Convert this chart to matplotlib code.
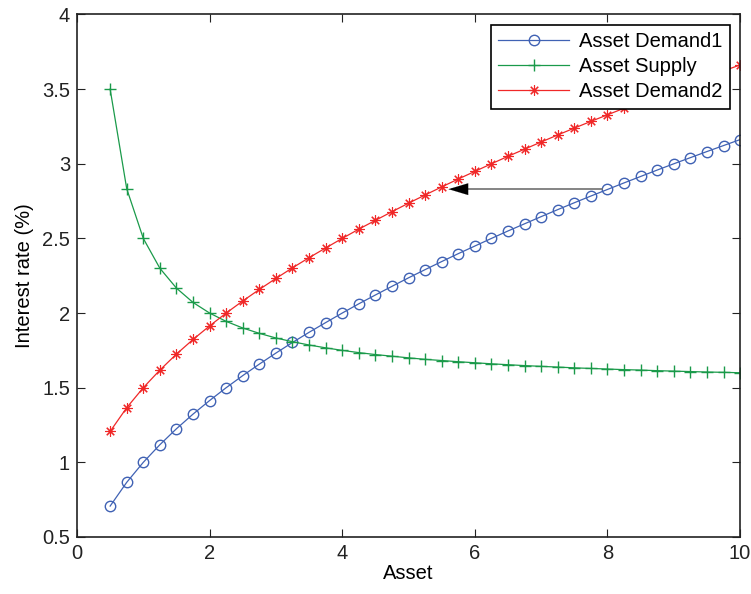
import matplotlib.pyplot as plt

plt.rcParams['font.family'] = ['Liberation Sans', 'DejaVu Sans']

# asset values on the x axis
asset = [0.5, 0.75, 1.0, 1.25, 1.5, 1.75, 2.0, 2.25, 2.5, 2.75, 3.0, 3.25, 3.5,
         3.75, 4.0, 4.25, 4.5, 4.75, 5.0, 5.25, 5.5, 5.75, 6.0, 6.25, 6.5, 6.75,
         7.0, 7.25, 7.5, 7.75, 8.0, 8.25, 8.5, 8.75, 9.0, 9.25, 9.5, 9.75, 10.0]

demand1 = [0.707, 0.866, 1.0, 1.118, 1.225, 1.323, 1.414, 1.5, 1.581, 1.658,
           1.732, 1.803, 1.871, 1.936, 2.0, 2.062, 2.121, 2.179, 2.236, 2.291,
           2.345, 2.398, 2.449, 2.5, 2.55, 2.598, 2.646, 2.693, 2.739, 2.784,
           2.828, 2.872, 2.915, 2.958, 3.0, 3.041, 3.082, 3.122, 3.162]

supply = [3.5, 2.833, 2.5, 2.3, 2.167, 2.071, 2.0, 1.944, 1.9, 1.864, 1.833,
          1.808, 1.786, 1.767, 1.75, 1.735, 1.722, 1.711, 1.7, 1.69, 1.682,
          1.674, 1.667, 1.66, 1.654, 1.648, 1.643, 1.638, 1.633, 1.629, 1.625,
          1.621, 1.618, 1.614, 1.611, 1.608, 1.605, 1.603, 1.6]

demand2 = [1.207, 1.366, 1.5, 1.618, 1.725, 1.823, 1.914, 2.0, 2.081, 2.158,
           2.232, 2.303, 2.371, 2.436, 2.5, 2.562, 2.621, 2.679, 2.736, 2.791,
           2.845, 2.898, 2.949, 3.0, 3.05, 3.098, 3.146, 3.193, 3.239, 3.284,
           3.328, 3.372, 3.415, 3.458, 3.5, 3.541, 3.582, 3.622, 3.662]

# shift arrow (from demand1 to demand2)
arrow_start = (7.92, 2.83)
arrow_end = (5.56, 2.83)

yticks = [0.5, 1, 1.5, 2, 2.5, 3, 3.5, 4]
ytick_labels = ['0.5', '1', '1.5', '2', '2.5', '3', '3.5', '4']
xticks = [0, 2, 4, 6, 8, 10]

fig = plt.figure(figsize=(7.51, 5.94), dpi=100)
ax = fig.add_axes([0.1025, 0.096, 0.883, 0.8796])

ax.plot(asset, demand1, color='#4062b4', marker='o', markersize=7.5,
        markerfacecolor='none', linewidth=0.9, label='Asset Demand1')
ax.plot(asset, supply, color='#1a9a4a', marker='+', markersize=8,
        linewidth=0.9, label='Asset Supply')
ax.plot(asset, demand2, color='#f02828', marker=(8, 2, 0), markersize=7.5,
        markeredgewidth=0.8, linewidth=0.9, label='Asset Demand2')

# grey shaft, black head
ax.plot([arrow_start[0], arrow_end[0] + 0.1], [arrow_start[1], arrow_end[1]],
        color='#707070', linewidth=1.2)
ax.annotate('', xy=arrow_end, xytext=(arrow_end[0] + 0.3, arrow_end[1]),
            arrowprops=dict(arrowstyle='-|>,head_length=1.4,head_width=0.42',
                            color='black', linewidth=0.1))

ax.set_xlim(0, 10)
ax.set_ylim(0.5, 4)
ax.set_xticks(xticks)
ax.set_xticklabels([str(t) for t in xticks])
ax.set_yticks(yticks)
ax.set_yticklabels(ytick_labels)
ax.tick_params(direction='in', top=True, right=True, length=6, width=0.8,
               labelsize=14.5, colors='#222222', pad=5)
for s in ax.spines.values():
    s.set_linewidth(1.2)
    s.set_color('#222222')

ax.set_xlabel('Asset', fontsize=14.5, labelpad=1)
ax.set_ylabel('Interest rate (%)', fontsize=14.5, labelpad=6)

leg = ax.legend(loc='upper right', fontsize=14.5, fancybox=False,
                framealpha=1, edgecolor='black', borderaxespad=0.5,
                handlelength=3.5, handletextpad=0.5, labelspacing=0.3,
                borderpad=0.38, numpoints=1)
leg.get_frame().set_linewidth(1.2)

fig.savefig('out.png', dpi=100)
